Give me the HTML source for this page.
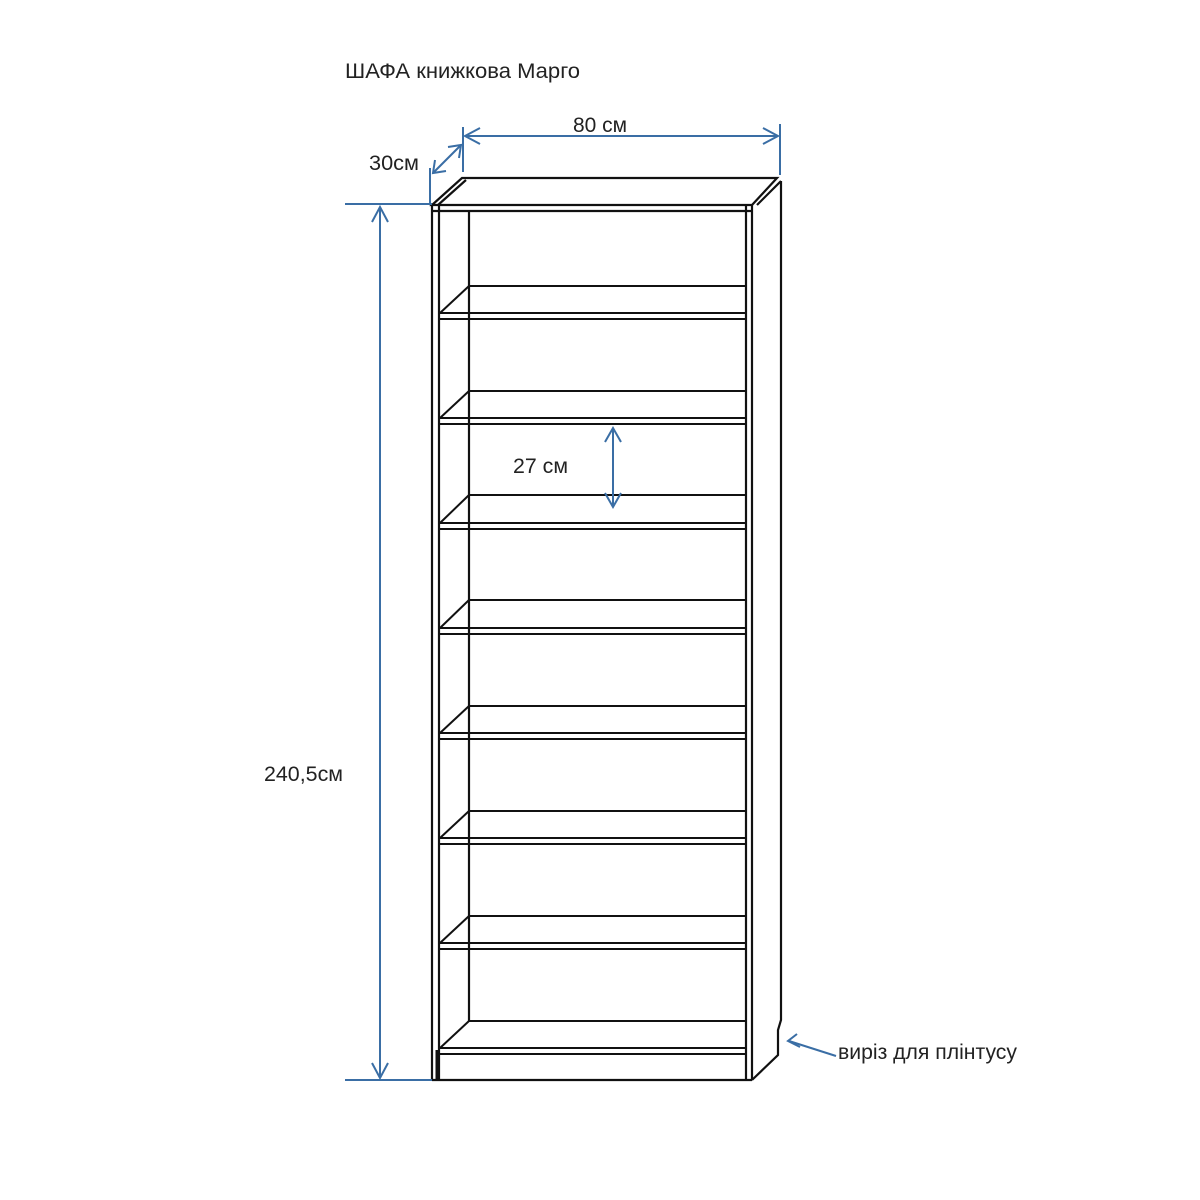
<!DOCTYPE html>
<html><head><meta charset="utf-8"><style>body{margin:0;background:#fff}svg{display:block}</style></head>
<body>
<svg width="1200" height="1200" viewBox="0 0 1200 1200" xmlns="http://www.w3.org/2000/svg" font-family="Liberation Sans, DejaVu Sans, sans-serif">
<rect width="1200" height="1200" fill="#fff"/>
<g font-size="21" fill="#222">
<text x="345" y="78" textLength="235" lengthAdjust="spacingAndGlyphs">ШАФА книжкова Марго</text>
<text x="573" y="132" textLength="54" lengthAdjust="spacingAndGlyphs">80 см</text>
<text x="369" y="170" textLength="50" lengthAdjust="spacingAndGlyphs">30см</text>
<text x="264" y="781" textLength="79" lengthAdjust="spacingAndGlyphs">240,5см</text>
<text x="513" y="473" textLength="55" lengthAdjust="spacingAndGlyphs">27 см</text>
<text x="838" y="1059" textLength="179" lengthAdjust="spacingAndGlyphs">виріз для плінтусу</text>
</g>
<g stroke="#111" stroke-width="2.2" fill="none">
<path d="M432 205 L462 178 L777 178 L752 205 Z"/>
<path d="M438 205 L466 180"/>
<path d="M757 205 L781 181"/>
<line x1="432" y1="211" x2="752" y2="211"/>
<line x1="432" y1="205" x2="432" y2="1080"/>
<line x1="439" y1="205" x2="439" y2="1080"/>
<line x1="437" y1="1050" x2="437" y2="1080" stroke-width="3"/>
<line x1="746" y1="205" x2="746" y2="1080"/>
<line x1="752" y1="205" x2="752" y2="1080"/>
<path d="M781 181 L781 1020 L778 1030 L778 1055 L752 1080"/>
<line x1="432" y1="1080" x2="752" y2="1080"/>
<line x1="469" y1="211" x2="469" y2="1021"/>
</g>
<g stroke="#111" stroke-width="2" fill="none">
<line x1="469" y1="286" x2="746" y2="286"/><line x1="469" y1="286" x2="440" y2="313"/><line x1="439" y1="313" x2="746" y2="313"/><line x1="439" y1="319" x2="746" y2="319"/>
<line x1="469" y1="391" x2="746" y2="391"/><line x1="469" y1="391" x2="440" y2="418"/><line x1="439" y1="418" x2="746" y2="418"/><line x1="439" y1="424" x2="746" y2="424"/>
<line x1="469" y1="495" x2="746" y2="495"/><line x1="469" y1="495" x2="440" y2="523"/><line x1="439" y1="523" x2="746" y2="523"/><line x1="439" y1="529" x2="746" y2="529"/>
<line x1="469" y1="600" x2="746" y2="600"/><line x1="469" y1="600" x2="440" y2="628"/><line x1="439" y1="628" x2="746" y2="628"/><line x1="439" y1="634" x2="746" y2="634"/>
<line x1="469" y1="706" x2="746" y2="706"/><line x1="469" y1="706" x2="440" y2="733"/><line x1="439" y1="733" x2="746" y2="733"/><line x1="439" y1="739" x2="746" y2="739"/>
<line x1="469" y1="811" x2="746" y2="811"/><line x1="469" y1="811" x2="440" y2="838"/><line x1="439" y1="838" x2="746" y2="838"/><line x1="439" y1="844" x2="746" y2="844"/>
<line x1="469" y1="916" x2="746" y2="916"/><line x1="469" y1="916" x2="440" y2="943"/><line x1="439" y1="943" x2="746" y2="943"/><line x1="439" y1="949" x2="746" y2="949"/>
<line x1="469" y1="1021" x2="746" y2="1021"/><line x1="469" y1="1021" x2="440" y2="1048"/><line x1="439" y1="1048" x2="746" y2="1048"/><line x1="439" y1="1054" x2="746" y2="1054"/>
</g>
<g stroke="#3a6ea5" stroke-width="2" fill="none">
<line x1="345" y1="204" x2="432" y2="204"/>
<line x1="345" y1="1080" x2="432" y2="1080"/>
<line x1="380" y1="207" x2="380" y2="1078"/>
<path d="M372 222 L380 207 L388 222 M372 1063 L380 1078 L388 1063"/>
<line x1="463" y1="127" x2="463" y2="172"/>
<line x1="780" y1="124" x2="780" y2="175"/>
<line x1="465" y1="136" x2="778" y2="136"/>
<path d="M480 128 L465 136 L480 144 M763 128 L778 136 L763 144"/>
<line x1="430" y1="168" x2="430" y2="203"/>
<line x1="433" y1="173" x2="461" y2="145"/>
<path d="M435 160 L433 173 L446 171 M459 158 L461 145 L448 147"/>
<line x1="613" y1="430" x2="613" y2="506"/>
<path d="M605 442 L613 428 L621 442 M605 493 L613 507 L621 493"/>
<line x1="789" y1="1041" x2="836" y2="1056"/>
<path d="M797 1034 L788 1041 L800 1047"/>
</g>
</svg>
</body></html>
